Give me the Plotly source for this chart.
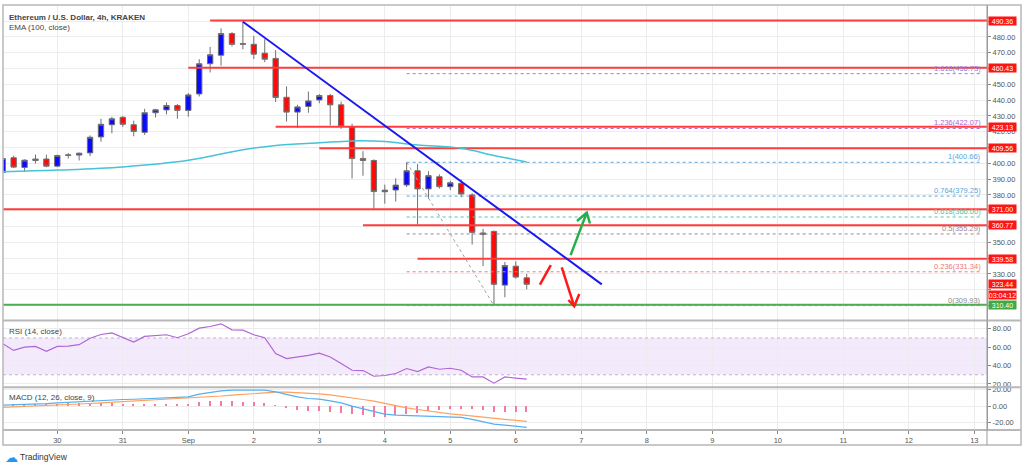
import pandas as pd
import plotly.graph_objects as go
from plotly.subplots import make_subplots

# ---------------- data ----------------
candle_start = "2020-08-29 04:00"
n_candles = 49
opens = [394.2, 403.5, 397.4, 401.8, 402.7, 398.2, 405.0, 405.2, 406.6, 416.7,
         424.4, 429.1, 424.4, 419.6, 432.0, 433.8, 436.6, 433.5, 443.9, 463.0,
         468.4, 482.1, 475.8, 475.3, 469.7, 466.4, 441.8, 432.4, 436.0, 440.1,
         442.9, 437.0, 423.0, 403.0, 401.8, 382.0, 383.1, 386.3, 395.3, 383.8,
         391.5, 385.2, 387.3, 380.0, 355.0, 356.9, 322.9, 334.9, 327.5]
highs = [404.5, 404.8, 402.5, 405.5, 405.5, 405.5, 406.5, 406.8, 417.7, 428.2,
         429.5, 430.0, 427.0, 434.5, 434.5, 438.5, 437.5, 444.5, 465.9, 473.7,
         485.4, 483.0, 489.6, 480.6, 478.5, 471.6, 448.7, 437.0, 445.4, 443.8,
         444.0, 439.0, 425.0, 407.7, 402.5, 386.5, 390.5, 400.66, 399.5, 395.0,
         393.0, 389.0, 389.8, 381.0, 358.5, 357.5, 337.6, 338.0, 330.0]
lows = [393.5, 397.0, 394.7, 399.9, 397.5, 397.5, 403.0, 401.8, 404.5, 413.7,
        419.0, 423.0, 417.1, 418.0, 429.0, 431.0, 428.2, 429.5, 442.3, 457.5,
        461.8, 474.0, 472.2, 466.0, 464.0, 438.8, 426.5, 422.3, 432.0, 438.0,
        424.0, 421.8, 390.4, 392.1, 371.2, 374.5, 375.8, 385.0, 361.2, 377.5,
        384.0, 383.0, 378.5, 348.6, 334.9, 309.93, 315.2, 327.0, 320.2]
closes = [403.0, 397.6, 402.0, 402.7, 398.2, 404.9, 405.3, 406.4, 416.5, 424.7,
          428.2, 424.7, 420.2, 432.0, 433.9, 436.6, 433.5, 443.3, 463.0, 468.7,
          482.1, 475.3, 475.4, 469.1, 465.9, 441.6, 432.4, 435.7, 439.5, 442.9,
          437.0, 423.3, 403.0, 401.8, 382.1, 383.0, 386.2, 395.3, 383.8, 392.2,
          385.2, 387.7, 380.6, 356.3, 355.9, 323.4, 335.3, 328.0, 323.44]

ema_times = ["2020-08-29 04:00", "2020-08-30 00:00", "2020-08-31 00:00", "2020-09-01 00:00",
             "2020-09-01 20:00", "2020-09-02 08:00", "2020-09-03 00:00", "2020-09-03 12:00",
             "2020-09-04 00:00", "2020-09-04 12:00", "2020-09-05 04:00", "2020-09-05 16:00",
             "2020-09-06 04:00"]
ema_values = [394.6, 395.7, 397.7, 401.9, 408.6, 411.3, 413.0, 414.2, 413.8, 411.6, 409.5, 405.0, 400.9]

rsi_values = [63.8, 56.5, 60.1, 60.9, 55.5, 60.9, 61.2, 62.7, 69.8, 73.8,
              75.6, 70.9, 65.5, 71.7, 72.8, 73.5, 70.3, 74.6, 80.7, 82.5,
              85.4, 78.9, 78.5, 73.5, 70.3, 53.0, 47.6, 49.3, 51.1, 53.6,
              49.3, 42.2, 34.9, 34.6, 28.4, 29.2, 31.4, 36.8, 33.5, 38.5,
              36.0, 37.1, 34.9, 27.7, 27.7, 20.9, 27.7, 26.3, 25.2]
macd_values = [1.2, 1.5, 1.8, 2.3, 3.0, 4.0, 4.8, 5.5, 6.5, 7.3,
               7.8, 8.0, 8.3, 8.9, 9.6, 10.2, 10.6, 11.2, 14.5, 16.5,
               18.3, 19.2, 19.4, 19.4, 19.2, 17.2, 14.0, 11.2, 9.2, 8.4,
               6.4, 4.0, 0.0, -3.2, -6.8, -9.6, -10.8, -11.2, -12.0, -12.4,
               -12.8, -13.2, -13.6, -16.0, -18.8, -21.6, -22.8, -24.4, -25.6]
signal_values = [-1.6, -1.1, -0.6, -0.1, 0.4, 1.2, 1.8, 2.5, 3.2, 3.9,
                 4.6, 5.2, 5.8, 6.5, 7.1, 7.8, 8.5, 9.2, 10.0, 11.0,
                 12.2, 13.3, 14.2, 15.2, 16.0, 16.8, 16.8, 16.4, 15.6, 14.8,
                 13.6, 12.0, 10.0, 8.0, 6.0, 3.2, 0.4, -2.0, -4.0, -6.0,
                 -7.6, -9.2, -10.4, -12.0, -13.6, -14.8, -16.0, -17.2, -18.4]

# horizontal resistance / support levels (price, start time; None = from left edge)
red_levels = [490.36, 460.43, 423.13, 409.56, 371.00, 360.77, 339.58]
red_starts = ["2020-09-01 08:00", "2020-09-01 00:00", "2020-09-02 08:00", "2020-09-03 00:00",
              None, "2020-09-03 16:00", "2020-09-04 12:00"]
green_level = 310.40
last_price = 323.44
countdown = "03:04:12"

fib_ratios = ["1.618", "1.236", "1", "0.764", "0.618", "0.5", "0.236", "0"]
fib_prices = [456.73, 422.07, 400.66, 379.25, 366.00, 355.29, 331.34, 309.93]
fib_colors = ["#8a7fe0", "#b064d2", "#5aa6dc", "#5aa6dc", "#48c9a2", "#a08593", "#f07878", "#8c8c8c"]
fib_start = "2020-09-04 08:00"
fib_end = "2020-09-13 03:00"
fib_diag_t = ["2020-09-04 08:00", "2020-09-05 16:00"]
fib_diag_p = [400.66, 309.93]

trend_t = ["2020-09-01 20:00", "2020-09-07 07:30"]
trend_p = [489.6, 323.4]

zig_t = ["2020-09-06 08:50", "2020-09-06 12:50"]
zig_p = [323.2, 335.6]
down_arrow_t = ["2020-09-06 16:50", "2020-09-06 21:25"]
down_arrow_p = [334.1, 309.5]
down_head_t = ["2020-09-06 19:15", "2020-09-06 21:25", "2020-09-06 23:15"]
down_head_p = [313.5, 309.5, 317.3]
up_arrow_t = ["2020-09-06 20:05", "2020-09-07 02:00"]
up_arrow_p = [341.9, 368.8]
up_head_t = ["2020-09-06 22:25", "2020-09-07 02:00", "2020-09-07 03:10"]
up_head_p = [363.5, 368.8, 361.9]

day_ticks = pd.date_range("2020-08-30", "2020-09-13", freq="D")
day_labels = ["30", "31", "Sep", "2", "3", "4", "5", "6", "7", "8", "9", "10", "11", "12", "13"]

x_range = ["2020-08-29 04:06", "2020-09-13 04:39"]
price_range = [300.5, 500.2]
rsi_range = [16.5, 89]
macd_range = [-28.7, 22.8]
price_ticks = list(range(310, 500, 10))
price_tick_shown = [330, 350, 380, 390, 400, 420, 430, 440, 450, 470, 480]

# ---------------- figure ----------------
times = pd.date_range(candle_start, periods=n_candles, freq="4h")
hist = [m - s for m, s in zip(macd_values, signal_values)]

fig = make_subplots(rows=3, cols=1, shared_xaxes=True, vertical_spacing=0,
                    row_heights=[317, 67, 43])

FONT = "Liberation Sans, Arial, sans-serif"
RED = "#ff3d3d"

# RSI band
fig.add_shape(type="rect", xref="x2", yref="y2", x0=x_range[0], x1=x_range[1], y0=30, y1=70,
              fillcolor="rgba(160,90,230,0.12)", line_width=0, layer="below")
for lv in (30, 70):
    fig.add_trace(go.Scatter(x=x_range, y=[lv, lv], mode="lines",
                             line=dict(color="#c6afd6", width=1, dash="3px,3px"),
                             hoverinfo="skip"), row=2, col=1)

# horizontal red levels
for lv, st in zip(red_levels, red_starts):
    fig.add_trace(go.Scatter(x=[st or x_range[0], x_range[1]], y=[lv, lv], mode="lines",
                             line=dict(color=RED, width=2), hoverinfo="skip"), row=1, col=1)
fig.add_trace(go.Scatter(x=x_range, y=[green_level, green_level], mode="lines",
                         line=dict(color="#4caf50", width=2), hoverinfo="skip"), row=1, col=1)

# fib levels
for r, p, c in zip(fib_ratios, fib_prices, fib_colors):
    fig.add_trace(go.Scatter(x=[fib_start, fib_end], y=[p, p], mode="lines",
                             line=dict(color=c, width=1, dash="3px,3px"), hoverinfo="skip"),
                  row=1, col=1)
    fig.add_annotation(x=fib_end, y=p, xref="x", yref="y", text=f"{r}({p:.2f})",
                       showarrow=False, xanchor="right", yanchor="bottom", yshift=-1,
                       font=dict(family=FONT, size=7.5, color=c))
fig.add_trace(go.Scatter(x=fib_diag_t, y=fib_diag_p, mode="lines",
                         line=dict(color="#a0a0a0", width=1, dash="3px,3px"), hoverinfo="skip"),
              row=1, col=1)

# EMA
fig.add_trace(go.Scatter(x=pd.to_datetime(ema_times), y=ema_values, mode="lines",
                         line=dict(color="#45c3d8", width=1.5, shape="spline"),
                         hoverinfo="skip"), row=1, col=1)

# candles
fig.add_trace(go.Candlestick(x=times, open=opens, high=highs, low=lows, close=closes,
                             increasing=dict(fillcolor="#0a0aff", line=dict(color="#707070", width=1)),
                             decreasing=dict(fillcolor="#ff0a0a", line=dict(color="#707070", width=1)),
                             whiskerwidth=0, hoverinfo="skip"), row=1, col=1)

# trendline
fig.add_trace(go.Scatter(x=trend_t, y=trend_p, mode="lines",
                         line=dict(color="#1a1aee", width=2), hoverinfo="skip"), row=1, col=1)

# arrows
for tt, pp, col in [(zig_t, zig_p, "#ff1a1a"), (down_arrow_t, down_arrow_p, "#ff1a1a"),
                    (down_head_t, down_head_p, "#ff1a1a"), (up_arrow_t, up_arrow_p, "#22b04b"),
                    (up_head_t, up_head_p, "#22b04b")]:
    fig.add_trace(go.Scatter(x=tt, y=pp, mode="lines", line=dict(color=col, width=2.5),
                             hoverinfo="skip"), row=1, col=1)

# RSI
fig.add_trace(go.Scatter(x=times, y=rsi_values, mode="lines",
                         line=dict(color="#b066d4", width=1.2), hoverinfo="skip"), row=2, col=1)

# MACD
fig.add_trace(go.Bar(x=times, y=hist, marker=dict(color="#f47aa2", line_width=0),
                     width=4 * 3600 * 1000 * 0.14, hoverinfo="skip"), row=3, col=1)
fig.add_trace(go.Scatter(x=times, y=signal_values, mode="lines",
                         line=dict(color="#ffa060", width=1.2), hoverinfo="skip"), row=3, col=1)
fig.add_trace(go.Scatter(x=times, y=macd_values, mode="lines",
                         line=dict(color="#55b0f0", width=1.2), hoverinfo="skip"), row=3, col=1)

GRID = "#ececec"
tickfont = dict(family=FONT, size=7.5, color="#555")
fig.update_xaxes(range=x_range, showgrid=True, gridcolor=GRID, gridwidth=1,
                 tickvals=day_ticks, ticktext=day_labels, tickfont=tickfont,
                 zeroline=False, showline=False, rangeslider_visible=False, ticks="")
fig.update_xaxes(ticks="outside", ticklen=3, tickcolor="#888", row=3, col=1)

fig.update_yaxes(side="right", showgrid=True, gridcolor=GRID, gridwidth=1, zeroline=False,
                 tickfont=tickfont, ticks="outside", ticklen=3, tickcolor="#888",
                 showline=True, linecolor="#9a9a9a", linewidth=1)
fig.update_yaxes(range=price_range, tickvals=price_ticks,
                 ticktext=[f"{v:.2f}" if v in price_tick_shown else "" for v in price_ticks],
                 row=1, col=1)
fig.update_yaxes(range=rsi_range, tickvals=[20, 40, 60, 80],
                 ticktext=["20.00", "40.00", "60.00", "80.00"], row=2, col=1)
fig.update_yaxes(range=macd_range, tickvals=[-20, 0, 20],
                 ticktext=["-20.00", "0.00", "20.00"], row=3, col=1)

# price axis boxes
box_font = dict(family=FONT, size=7, color="white")
for lv in red_levels:
    fig.add_annotation(x=1, xref="paper", y=lv, yref="y", text=f"{lv:.2f}", showarrow=False,
                       xanchor="left", xshift=1, bgcolor="#ff1414", font=box_font,
                       width=27, height=8, borderpad=0)
fig.add_annotation(x=1, xref="paper", y=last_price, yref="y", text=f"{last_price:.2f}",
                   showarrow=False, xanchor="left", xshift=1, bgcolor="#ff1414", font=box_font,
                   width=27, height=8, borderpad=0)
fig.add_annotation(x=1, xref="paper", y=last_price, yref="y", text=countdown, showarrow=False,
                   xanchor="left", xshift=1, yshift=-11, bgcolor="#ff1414", font=box_font,
                   width=27, height=8, borderpad=0)
fig.add_annotation(x=1, xref="paper", y=green_level, yref="y", text=f"{green_level:.2f}",
                   showarrow=False, xanchor="left", xshift=1, bgcolor="#43a843", font=box_font,
                   width=27, height=8, borderpad=0)

# pane titles
title_font = dict(family=FONT, size=8, color="#444")
fig.add_annotation(x=0, y=1, xref="paper", yref="paper", xanchor="left", yanchor="top",
                   xshift=4, yshift=-6, showarrow=False,
                   text="<b>Ethereum / U.S. Dollar, 4h, KRAKEN</b>", font=title_font)
fig.add_annotation(x=0, y=1, xref="paper", yref="paper", xanchor="left", yanchor="top",
                   xshift=4, yshift=-16, showarrow=False, text="EMA (100, close)", font=title_font)
fig.add_annotation(x=0, y=1, xref="paper", yref="y2 domain", xanchor="left", yanchor="top",
                   xshift=4, yshift=-4, showarrow=False, text="RSI (14, close)", font=title_font)
fig.add_annotation(x=0, y=1, xref="paper", yref="y3 domain", xanchor="left", yanchor="top",
                   xshift=4, yshift=-4, showarrow=False, text="MACD (12, 26, close, 9)",
                   font=title_font)

# frame and separators (pixel-based layout in paper units)
PW, PH = 984, 427
rx = 1 + 34 / PW
by = -15 / PH
sep = "#b8b8b8"
fig.add_shape(type="rect", xref="paper", yref="paper", x0=0, x1=rx, y0=by, y1=1,
              line=dict(color=sep, width=1.5), layer="above")
for yy in (110 / PH, 43 / PH, 0):
    fig.add_shape(type="line", xref="paper", yref="paper", x0=0, x1=rx, y0=yy, y1=yy,
                  line=dict(color=sep, width=2), layer="above")
fig.add_shape(type="line", xref="paper", yref="paper", x0=1, x1=1, y0=by, y1=1,
              line=dict(color="#9a9a9a", width=1), layer="above")

# TradingView logo
fig.add_annotation(x=0, y=by, xref="paper", yref="paper", xanchor="left", yanchor="top",
                   yshift=-3, showarrow=False, text="☁",
                   font=dict(family="DejaVu Sans", size=13, color="#2196f3"))
fig.add_annotation(x=0, y=by, xref="paper", yref="paper", xanchor="left", yanchor="top",
                   xshift=15, yshift=-5, showarrow=False, text="TradingView",
                   font=dict(family=FONT, size=8.5, color="#333"))

fig.update_layout(width=1024, height=464, margin=dict(l=3, r=37, t=3, b=34),
                  paper_bgcolor="white", plot_bgcolor="white", showlegend=False,
                  bargap=0, hovermode=False)

fig.write_html("out.html", config={"displayModeBar": False},
               post_script="document.body.style.margin='0';document.body.style.overflow='hidden';")
